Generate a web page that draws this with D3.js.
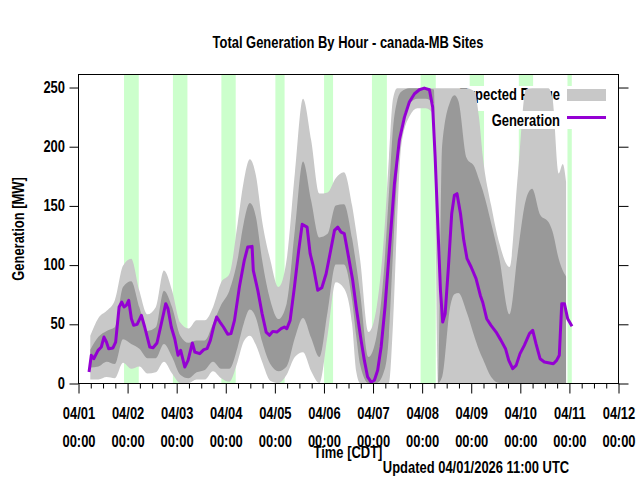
<html>
  <style type="text/css">
    body { margin: 0; background: #fff; }
    text { font-family: "Liberation Sans", Arial, sans-serif; font-weight: bold; font-size: 15.8px; fill: #000; }
  </style>
  <body>
    <script src="https://cdnjs.cloudflare.com/ajax/libs/d3/7.8.5/d3.min.js"></script>
    <script type="text/javascript">
      // hours counted from 04/01 00:00 CDT
      const dayLabels = ["04/01", "04/02", "04/03", "04/04", "04/05", "04/06", "04/07", "04/08", "04/09", "04/10", "04/11", "04/12"];
      const yTicks = [0, 50, 100, 150, 200, 250];

      // pale green shaded periods
      const greenStart = [22.5, 46.4, 70.1, 96.5, 120.3, 143.7, 167.5, 191.5, 215.5, 239.3];
      const greenEnd = [29.7, 53.5, 77.1, 101, 124.7, 151, 174.9, 198.5, 222.5, 241.4];

      // expected range (outer = light grey, inner = dark grey)
      const bandHours = [6, 10, 14, 18, 22, 26, 30, 34, 38, 42, 46, 50, 54, 58, 62, 66, 70, 74, 78, 81, 84, 87, 90, 94, 98, 102, 106, 110, 114, 118, 122, 126, 130, 134, 136, 138, 142, 146, 150, 152, 154, 156, 158, 162, 166, 170, 174, 176, 178, 182, 184, 186, 190, 194, 196, 198, 202, 206, 211, 215, 219, 222, 226, 230, 232, 235, 237, 238.6];
      const outerHigh = [40, 55, 61, 70, 99, 105, 78, 58, 64, 95, 78, 51, 46, 53, 53, 64, 85, 92, 134, 170, 189, 175, 137, 104, 81, 104, 177, 240, 205, 160, 161, 173, 178, 150, 128, 103, 43, 64, 134, 190, 240, 249, 249, 249, 249, 249, 249, 249, 249, 249, 249, 249, 249, 246, 225, 190, 150, 118, 98, 175, 248, 249, 249, 249, 240, 177, 185, 170];
      const innerHigh = [28, 39, 44, 47, 81, 86, 64, 44, 47, 78, 64, 40, 34, 36, 36, 50, 66, 78, 104, 135, 152, 140, 104, 70, 54, 67, 129, 187, 154, 123, 126, 150, 151, 122, 100, 75, 22, 40, 105, 160, 215, 238, 246, 249, 249, 249, 248, 0, 200, 238, 243, 238, 190, 182, 172, 162, 135, 105, 58, 110, 155, 164, 142, 136, 128, 105, 95, 90];
      const innerLow = [13, 14, 18, 16, 37, 33, 29, 21, 21, 33, 22, 7, 4, 9, 11, 18, 12, 12, 30, 50, 62, 55, 35, 16, 10, 14, 38, 55, 38, 22, 60, 100, 100, 70, 40, 15, 0, 0, 12, 40, 110, 175, 215, 236, 240, 240, 236, 0, 5, 65, 75, 76, 60, 38, 28, 20, 5, 0, 0, 0, 0, 0, 0, 0, 0, 0, 0, 0];
      const outerLow = [3, 3, 5, 4, 17, 12, 14, 8, 9, 18, 8, 0, 0, 3, 3, 10, 4, 1, 18, 35, 40, 32, 18, 2, 0, 7, 22, 26, 10, 0, 40, 85, 80, 50, 10, 0, 0, 0, 0, 0, 50, 135, 200, 225, 232, 232, 226, 0, 0, 0, 0, 0, 0, 0, 0, 0, 0, 0, 0, 0, 0, 0, 0, 0, 0, 0, 0, 0];

      // measured generation [MW]
      const genHours = [5.4, 6.5, 7.7, 9.8, 11.4, 12.7, 13.9, 15, 17.1, 18.4, 20.1, 21.4, 22.5, 23.6, 24.8, 26.1, 27.2, 28.9, 31, 32.6, 35.1, 36.7, 38.6, 40.8, 42.9, 44, 45.6, 47.3, 48.9, 50.2, 52.2, 53.8, 55.9, 57.1, 59.5, 61.5, 63.1, 64.7, 66.4, 67.8, 69.4, 71.1, 73.2, 74.8, 76.5, 78.9, 81.3, 83, 85.1, 85.7, 87.9, 90, 92, 93.6, 95.2, 97.2, 99.3, 100.9, 102.1, 103.7, 105.8, 107.9, 109.6, 112, 113.5, 115.1, 117.2, 119.2, 121.3, 122.9, 125.4, 127, 128.6, 130.2, 131.9, 134.3, 136, 138.4, 140, 141.6, 143.3, 144.9, 146.5, 148.2, 150.1, 152.2, 154.7, 157.1, 159.6, 162, 164.5, 166.9, 169.3, 171.8, 173.4, 174.6, 175.9, 177.2, 178.3, 179.5, 181.1, 182.7, 184, 185.3, 187, 188.6, 190.2, 192.2, 194.6, 196.7, 197.9, 199.8, 201.9, 204.4, 206.8, 209, 210.6, 212.5, 214.2, 216.1, 218.2, 220.7, 222.3, 223.9, 225.9, 228, 230.5, 232.4, 234, 235.3, 236.5, 237.8, 239.4, 241.5];
      const genValues = [9.3, 23.4, 20.5, 27.6, 30.4, 38.8, 34.6, 29, 29.6, 34.6, 64.2, 68.4, 64.2, 65.6, 69.8, 54.3, 48.7, 49.5, 57.1, 47.3, 30.4, 29.8, 33.8, 50.7, 67, 62.8, 47.3, 37.4, 23.4, 27.6, 13.5, 19.1, 33.8, 26.2, 24.8, 28.2, 29, 36, 48, 55.7, 51.5, 47.3, 41.1, 41.7, 52.9, 81, 103.6, 114.9, 115.4, 95.1, 78.3, 58.6, 43, 40.3, 43.6, 43, 45.9, 47.3, 45.9, 52.9, 81, 112, 134, 131.7, 109.2, 98, 78.3, 80.5, 92.3, 106.4, 128.9, 131.7, 127.5, 126.1, 110, 86.7, 64.2, 36, 19.1, 5.1, 0.8, 2.3, 10.7, 30.4, 64.2, 112, 168.3, 205, 224.6, 237.3, 244.3, 247.7, 249.1, 247.7, 233, 190.9, 134.6, 78.3, 51.5, 58.6, 98, 143, 158.5, 159.9, 143, 120.5, 105, 98, 88.1, 74, 68, 54.3, 48.7, 43, 36, 29, 19.1, 12.1, 14.9, 24.8, 31.8, 41.7, 44.5, 33.2, 20.5, 17.7, 16.9, 16.3, 19.1, 23.4, 67, 67, 54.3, 47.9];

      const W = 640, H = 480;
      const plot = { left: 78, right: 618, top: 74, bottom: 383 };
      const narrow = 0.82; // squeeze Liberation Sans to a narrow face

      const svg = d3.select("body").append("svg").attr("width", W).attr("height", H);

      // text drawn at (px,py), condensed horizontally, rotated if asked
      function label(parent, px, py, str, anchor, rot) {
        return parent.append("text")
          .attr("transform", `translate(${px},${py})` + (rot ? ` rotate(${rot})` : "") + ` scale(${narrow},1)`)
          .attr("text-anchor", anchor || "middle")
          .text(str);
      }

      const x = d3.scaleLinear().domain([0, 264]).range([plot.left, plot.right]);
      const y = d3.scaleLinear().domain([0, 261]).range([plot.bottom, plot.top]);

      svg.append("clipPath").attr("id", "plotClip")
        .append("rect")
        .attr("x", plot.left).attr("y", plot.top)
        .attr("width", plot.right - plot.left).attr("height", plot.bottom - plot.top);

      const g = svg.append("g").attr("clip-path", "url(#plotClip)");

      // green periods
      g.selectAll("rect.green")
        .data(greenStart)
        .enter()
        .append("rect")
        .attr("class", "green")
        .attr("x", (d) => x(d))
        .attr("width", (d, i) => x(greenEnd[i]) - x(d))
        .attr("y", plot.top)
        .attr("height", plot.bottom - plot.top)
        .attr("fill", "#ccffcc");

      // key, first entry (sits under the bands)
      const keyRight = 560, keyX0 = 567, keyX1 = 606;
      svg.append("rect").attr("x", 455).attr("y", 86).attr("width", 155).attr("height", 25).attr("fill", "#fff");
      label(svg, keyRight, 100, "Expected Range", "end");
      svg.append("rect").attr("x", keyX0).attr("y", 89).attr("width", keyX1 - keyX0).attr("height", 12).attr("fill", "#c8c8c8");

      const rows = bandHours.map((h, i) => ({ h, oh: outerHigh[i], ih: innerHigh[i], il: innerLow[i], ol: outerLow[i] }));

      const outerArea = d3.area()
        .x((d) => x(d.h))
        .y0((d) => y(d.ol))
        .y1((d) => y(d.oh))
        .curve(d3.curveMonotoneX);
      const innerArea = d3.area()
        .x((d) => x(d.h))
        .y0((d) => y(d.il))
        .y1((d) => y(d.ih))
        .curve(d3.curveMonotoneX);

      const bands = svg.append("g").attr("clip-path", "url(#plotClip)");
      bands.append("path").datum(rows).attr("d", outerArea).attr("fill", "#c8c8c8");
      bands.append("path").datum(rows).attr("d", innerArea).attr("fill", "#999999");

      // key, second entry
      svg.append("rect").attr("x", 487).attr("y", 111).attr("width", 123).attr("height", 18).attr("fill", "#fff");
      label(svg, keyRight, 126, "Generation", "end");
      svg.append("line")
        .attr("x1", keyX0).attr("x2", keyX1).attr("y1", 117.5).attr("y2", 117.5)
        .attr("stroke", "#9400d3").attr("stroke-width", 3);

      const gen = genHours.map((h, i) => [h, genValues[i]]);
      const genLine = d3.line().x((d) => x(d[0])).y((d) => y(d[1]));
      svg.append("g").attr("clip-path", "url(#plotClip)")
        .append("path")
        .datum(gen)
        .attr("d", genLine)
        .attr("fill", "none")
        .attr("stroke", "#9400d3")
        .attr("stroke-width", 3)
        .attr("stroke-linejoin", "round");

      // frame
      svg.append("rect")
        .attr("x", plot.left + 0.5).attr("y", plot.top + 0.5)
        .attr("width", plot.right - plot.left).attr("height", plot.bottom - plot.top)
        .attr("fill", "none").attr("stroke", "#000").attr("stroke-width", 1);

      // x ticks: minor every 6h, major every day
      const minorHours = d3.range(0, 265, 6).filter((h) => h % 24 !== 0);
      const majorHours = d3.range(0, 265, 24);
      const xAxisMinor = d3.axisBottom(x).tickValues(minorHours).tickSize(5).tickFormat("");
      const xAxisMajor = d3.axisBottom(x).tickValues(majorHours).tickSize(10).tickFormat("").tickSizeOuter(0);
      svg.append("g").attr("transform", `translate(0.5,${plot.bottom + 0.5})`).call(xAxisMinor).call((a) => a.select(".domain").remove());
      svg.append("g").attr("transform", `translate(0.5,${plot.bottom + 0.5})`).call(xAxisMajor).call((a) => a.select(".domain").remove());

      const xLabels = svg.append("g");
      majorHours.forEach((h, i) => {
        label(xLabels, x(h) + 1, 419, dayLabels[i]);
        label(xLabels, x(h) + 1, 447, "00:00");
      });

      // y ticks, left with labels, right mirrored
      const yLeft = d3.axisLeft(y).tickValues(yTicks).tickSize(9).tickSizeOuter(0).tickFormat("");
      svg.append("g").attr("transform", `translate(${plot.left + 0.5},0.5)`).call(yLeft)
        .call((a) => a.select(".domain").remove());
      const yRight = d3.axisRight(y).tickValues(yTicks).tickSize(10).tickSizeOuter(0).tickFormat("");
      svg.append("g").attr("transform", `translate(${plot.right + 0.5},0.5)`).call(yRight)
        .call((a) => a.select(".domain").remove());
      svg.selectAll(".tick line").attr("stroke", "#000");

      const yLabels = svg.append("g");
      yTicks.forEach((v) => label(yLabels, 65, y(v) + 5.5, String(v), "end"));

      // titles
      label(svg, 348, 48, "Total Generation By Hour - canada-MB Sites");
      label(svg, 348, 458, "Time [CDT]");
      label(svg, 476, 473, "Updated 04/01/2026 11:00 UTC");
      label(svg, 24, 229, "Generation [MW]", "middle", -90);
    </script>
  </body>
</html>
